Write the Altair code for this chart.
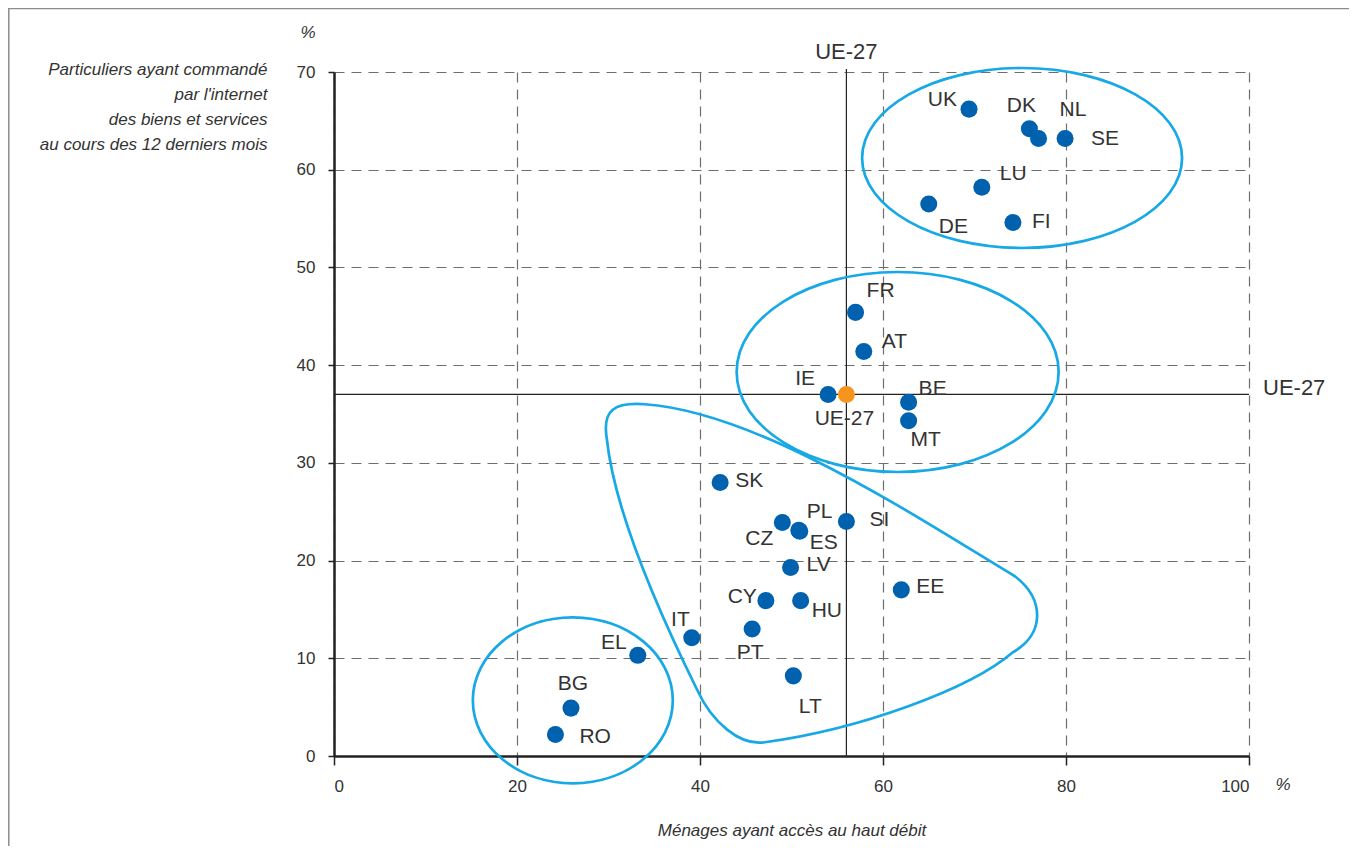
import altair as alt
import pandas as pd

# ---------------- data ----------------
countries = ["UK", "DK", "NL", "SE", "LU", "DE", "FI", "FR", "AT", "IE", "BE", "MT",
             "SK", "CZ", "PL", "ES", "SI", "LV", "EE", "CY", "HU", "PT", "IT", "EL",
             "LT", "BG", "RO"]
broadband = [69.4, 76.0, 77.0, 79.9, 70.8, 65.0, 74.2, 57.0, 57.9, 54.0, 62.8, 62.8,
             42.2, 49.0, 50.8, 50.9, 56.0, 49.9, 62.0, 47.2, 51.0, 45.7, 39.1, 33.2,
             50.2, 25.9, 24.2]
ecommerce = [66.2, 64.2, 63.2, 63.2, 58.2, 56.5, 54.6, 45.4, 41.4, 37.0, 36.2, 34.3,
             28.0, 23.9, 23.1, 23.0, 24.0, 19.3, 17.0, 15.9, 15.9, 13.0, 12.1, 10.3,
             8.2, 4.9, 2.2]
eu_name = "UE-27"
eu_broadband = 56.0
eu_ecommerce = 37.0

x_ticks = [0, 20, 40, 60, 80, 100]
y_ticks = [0, 10, 20, 30, 40, 50, 60, 70]
x_title = "Ménages ayant accès au haut débit"
y_title = ["Particuliers ayant commandé", "par l'internet",
           "des biens et services", "au cours des 12 derniers mois"]

# ---------------- styles ----------------
W, H = 915, 684
DOT = "#0061AF"
EU_DOT = "#F7941D"
RING = "#17A8E6"
TXT = "#333333"
LABEL_FONT = "Liberation Sans"
TICK_FONT = "Liberation Sans Narrow, Liberation Sans"
LABEL_SIZE = 21

# label placement (align, dx, dy) per country
label_style = {
    "UK": ("right", -12, -9), "DK": ("center", -8, -23), "NL": ("left", 21, -28),
    "SE": ("left", 26, 1), "LU": ("left", 18, -13), "DE": ("left", 10, 23),
    "FI": ("left", 19, 0), "FR": ("left", 11, -21), "AT": ("left", 18, -9),
    "IE": ("right", -13, -15), "BE": ("left", 10, -13), "MT": ("left", 2, 19),
    "SK": ("left", 15, -1), "CZ": ("right", -9, 17), "PL": ("left", 8, -18),
    "ES": ("left", 10, 12), "SI": ("left", 23, -1), "LV": ("left", 16, -2),
    "EE": ("left", 15, -3), "CY": ("right", -9, -4), "HU": ("left", 11, 10),
    "PT": ("center", -2, 24), "IT": ("right", -2, -18), "EL": ("right", -11, -12),
    "LT": ("center", 17, 31), "BG": ("center", 2, -24), "RO": ("left", 24, 2),
}
eu_label_style = ("center", -2, 25)


def ellipse_path(a, b):
    k = 0.5523
    return (f"M {a},0 C {a},{k*b:.1f} {k*a:.1f},{b} 0,{b} "
            f"C {-k*a:.1f},{b} {-a},{k*b:.1f} {-a},0 "
            f"C {-a},{-k*b:.1f} {-k*a:.1f},{-b} 0,{-b} "
            f"C {k*a:.1f},{-b} {a},{-k*b:.1f} {a},0 Z")


loop_path = ("M -213,-135 C -218,-165 -205,-172 -175,-170 "
             "C -60,-162 100,-55 195,2 "
             "C 225,25 225,60 193,78 "
             "C 150,115 40,155 -55,168 "
             "C -80,172 -108,148 -123,115 "
             "C -160,40 -205,-60 -213,-135 Z")

# group outlines: (centre x, centre y in data units, svg path in px)
groups = [
    (75.2, 61.2, ellipse_path(160, 90)),
    (61.6, 39.3, ellipse_path(161, 100)),
    (26.1, 5.7, ellipse_path(100, 83)),
    (53.1, 18.6, loop_path),
]

# ---------------- encodings ----------------
xs = alt.Scale(domain=[0, 100], nice=False, zero=False)
ys = alt.Scale(domain=[0, 70], nice=False, zero=False)
X = alt.X("x:Q", scale=xs, axis=alt.Axis(values=x_ticks, title=x_title, tickSize=9,
                                          labelPadding=13, titlePadding=28))
Y = alt.Y("y:Q", scale=ys, axis=alt.Axis(values=y_ticks, title=y_title, tickSize=6,
                                          labelPadding=13, titleAngle=0,
                                          titleAlign="right", titleX=-67, titleY=2,
                                          titleBaseline="alphabetic",
                                          titleLineHeight=25))

df = pd.DataFrame({"name": countries, "x": broadband, "y": ecommerce})
eu_df = pd.DataFrame({"name": [eu_name], "x": [eu_broadband], "y": [eu_ecommerce]})

one = alt.Data(values=[{}])
layers = []

# page frame (left and top edges)
layers.append(alt.Chart(one).mark_rule(color="#8c8c8c", strokeWidth=1.5).encode(
    x=alt.value(-325.2), y=alt.value(-64), y2=alt.value(H + 100)))
layers.append(alt.Chart(one).mark_rule(color="#8c8c8c", strokeWidth=1.5).encode(
    x=alt.value(-326), x2=alt.value(1030), y=alt.value(-63.5)))

# EU reference lines
layers.append(alt.Chart(eu_df).mark_rule(color="#222", strokeWidth=1.2).encode(
    x=X, y=alt.value(-3), y2=alt.value(H)))
layers.append(alt.Chart(eu_df).mark_rule(color="#222", strokeWidth=1.2).encode(
    y=Y, x=alt.value(0), x2=alt.value(W)))
layers.append(alt.Chart(eu_df).mark_text(font=LABEL_FONT, fontSize=22, color=TXT,
                                         align="center", baseline="middle").encode(
    x=X, y=alt.value(-20.5), text="name:N"))
layers.append(alt.Chart(eu_df).mark_text(font=LABEL_FONT, fontSize=22, color=TXT,
                                         align="left", baseline="middle", dy=-6).encode(
    y=Y, x=alt.value(W + 14), text="name:N"))

# group outlines
for gx, gy, path in groups:
    gdf = pd.DataFrame({"x": [gx], "y": [gy]})
    layers.append(alt.Chart(gdf).mark_point(shape=path, filled=False, size=4,
                                            stroke=RING, strokeWidth=2.7,
                                            opacity=1).encode(x=X, y=Y))

# dots
layers.append(alt.Chart(df).mark_circle(size=290, color=DOT, opacity=1).encode(x=X, y=Y))
layers.append(alt.Chart(eu_df).mark_circle(size=290, color=EU_DOT, opacity=1).encode(x=X, y=Y))

# labels
for name in countries:
    al, dx, dy = label_style[name]
    layers.append(alt.Chart(df).transform_filter(alt.datum.name == name).mark_text(
        font=LABEL_FONT, fontSize=LABEL_SIZE, color=TXT, align=al, baseline="middle",
        dx=dx, dy=dy).encode(x=X, y=Y, text="name:N"))
al, dx, dy = eu_label_style
layers.append(alt.Chart(eu_df).mark_text(font=LABEL_FONT, fontSize=LABEL_SIZE, color=TXT,
                                         align=al, baseline="middle", dx=dx, dy=dy).encode(
    x=X, y=Y, text="name:N"))

# percent signs
layers.append(alt.Chart(one).mark_text(text="%", font=LABEL_FONT, fontSize=17,
                                       fontStyle="italic", color=TXT, align="center",
                                       baseline="middle").encode(
    x=alt.value(-26), y=alt.value(-39)))
layers.append(alt.Chart(one).mark_text(text="%", font=LABEL_FONT, fontSize=17,
                                       fontStyle="italic", color=TXT, align="center",
                                       baseline="middle").encode(
    x=alt.value(949), y=alt.value(713)))

chart = alt.layer(*layers).properties(
    width=W, height=H,
    padding={"left": 326, "top": 64, "right": 100, "bottom": 90},
    autosize=alt.AutoSizeParams(type="none"),
).configure_view(stroke=None).configure_axis(
    domainColor="#222", domainWidth=2.5,
    tickColor="#222", tickWidth=1.5,
    grid=True, gridColor="#6e6e6e", gridDash=[10, 7], gridWidth=1.2,
    labelFont=TICK_FONT, labelFontSize=17, labelColor=TXT,
    titleFont=LABEL_FONT, titleFontSize=17, titleFontStyle="italic",
    titleFontWeight="normal", titleColor=TXT,
)

chart.save("out.html", embed_options={"renderer": "svg", "actions": False})
